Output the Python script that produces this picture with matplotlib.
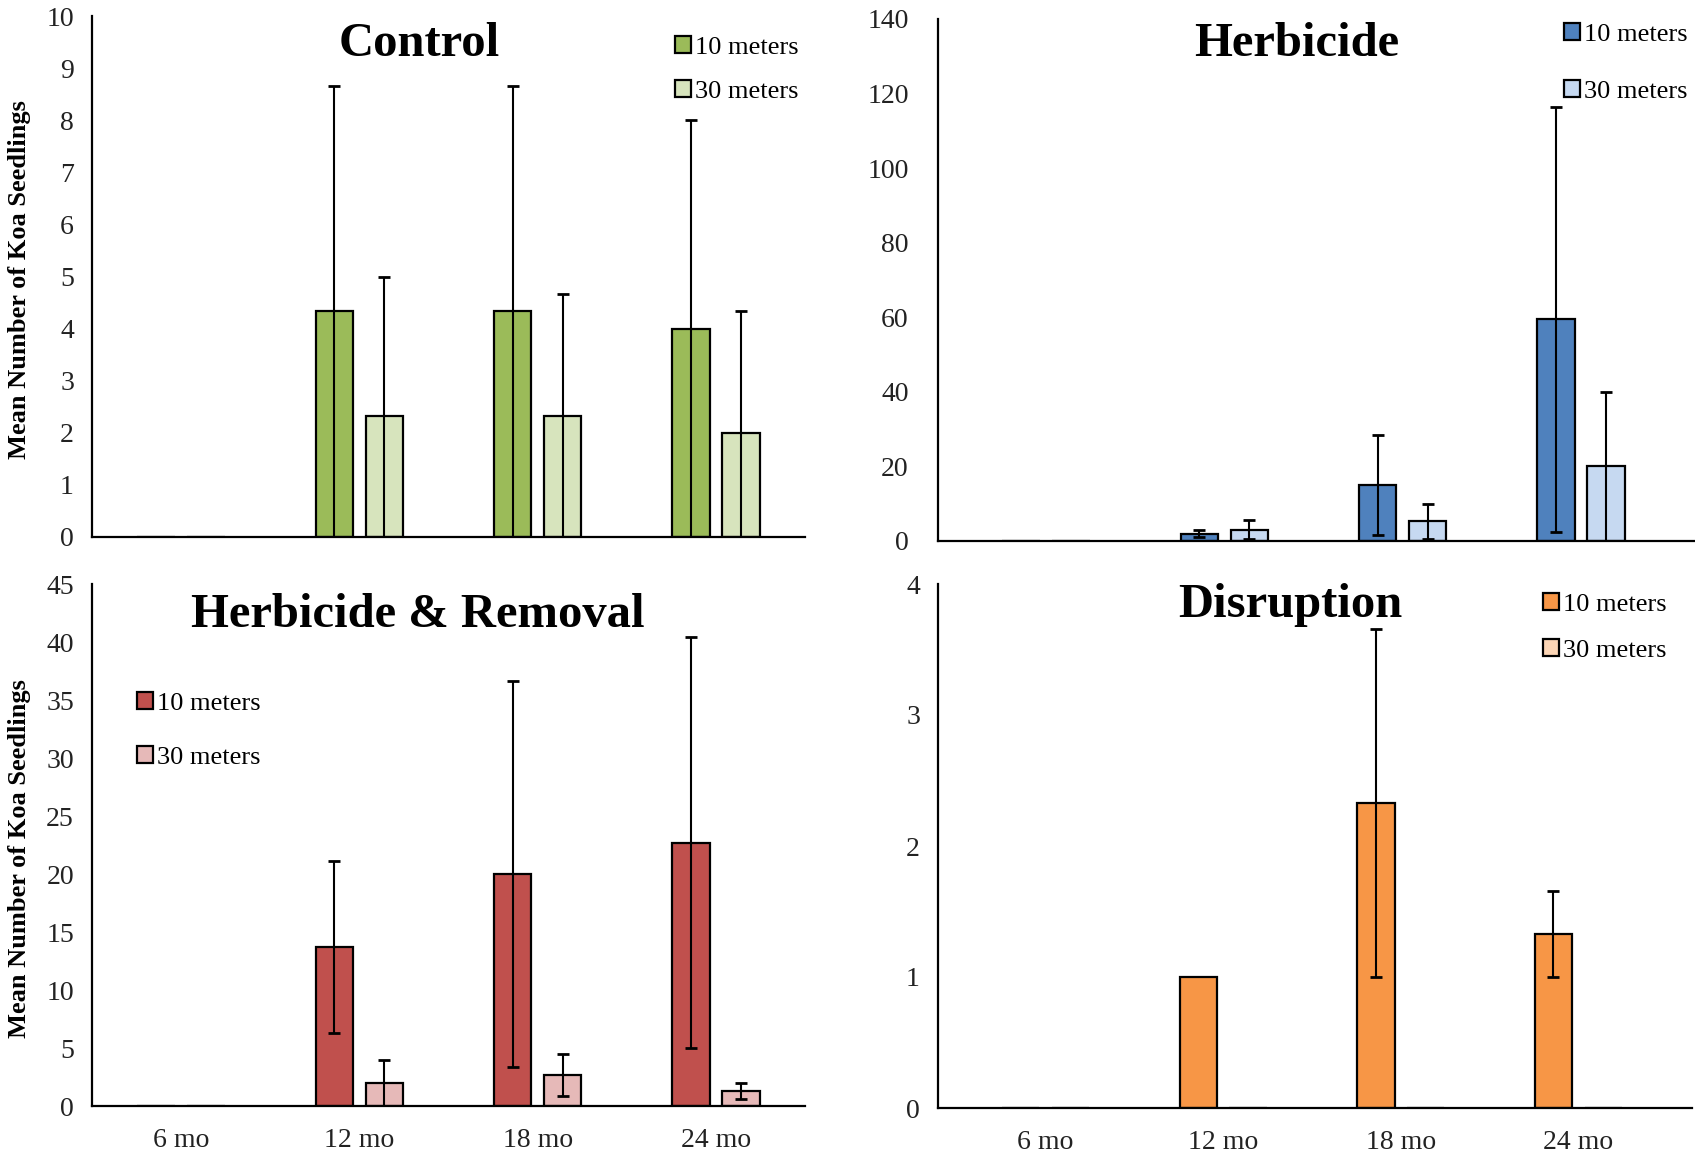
import matplotlib
matplotlib.use("Agg")
import matplotlib.pyplot as plt
import numpy as np

plt.rcParams['font.family'] = ['Liberation Serif', 'DejaVu Serif']

months = ['6 mo', '12 mo', '18 mo', '24 mo']
series = ['10 meters', '30 meters']

control_10 = [0, 4.33, 4.33, 4.0]
control_10_err = [0, 4.33, 4.33, 4.0]
control_30 = [0, 2.33, 2.33, 2.0]
control_30_err = [0, 2.67, 2.33, 2.33]

herb_10 = [0, 2.0, 15.0, 59.5]
herb_10_err = [0, 1.0, 13.5, 57.0]
herb_30 = [0, 3.0, 5.3, 20.0]
herb_30_err = [0, 2.5, 4.7, 20.0]

hr_10 = [0, 13.7, 20.0, 22.7]
hr_10_err = [0, 7.4, 16.6, 17.7]
hr_30 = [0, 2.0, 2.7, 1.3]
hr_30_err = [0, 2.0, 1.8, 0.67]

dis_10 = [0, 1.0, 2.33, 1.33]
dis_10_err = [0, 0, 1.33, 0.33]
dis_30 = [0, 0, 0, 0]
dis_30_err = [0, 0, 0, 0]

W, H = 1695, 1155
fig = plt.figure(figsize=(W / 100, H / 100), dpi=100)


def px_axes(x0, x1, y_bottom, y_top):
    return fig.add_axes([x0 / W, 1 - y_bottom / H, (x1 - x0) / W, (y_bottom - y_top) / H])


def panel(ax, v10, e10, v30, e30, colors, ymax, ystep, xlim, show_x, ypad):
    x = np.arange(len(months))
    w = 0.21
    off = 0.14
    ekw = dict(ecolor='black', elinewidth=1.5, capsize=4, capthick=2)
    e10m = [e if e > 0 else np.nan for e in e10]
    e30m = [e if e > 0 else np.nan for e in e30]
    ax.bar(x - off, v10, w, color=colors[0], edgecolor='black', linewidth=1.6,
           label=series[0], zorder=2)
    ax.bar(x + off, v30, w, color=colors[1], edgecolor='black', linewidth=1.6,
           label=series[1], zorder=2)
    ax.errorbar(x - off, v10, yerr=e10m, fmt='none', zorder=3, **ekw)
    ax.errorbar(x + off, v30, yerr=e30m, fmt='none', zorder=3, **ekw)
    ax.set_ylim(0, ymax)
    ax.set_xlim(*xlim)
    ax.set_yticks(np.arange(0, ymax + ystep / 2, ystep))
    ax.set_xticks(x)
    if show_x:
        ax.set_xticklabels(months)
    else:
        ax.set_xticklabels([])
    ax.tick_params(length=0, labelsize=20, colors='#222222')
    ax.tick_params(axis='y', pad=ypad)
    ax.tick_params(axis='x', pad=16)
    for s in ['top', 'right']:
        ax.spines[s].set_visible(False)
    for s in ['left', 'bottom']:
        ax.spines[s].set_linewidth(1.6)
        ax.spines[s].set_clip_on(False)
    ax.patch.set_alpha(0)


def legend(ax, xpx, ypx, spacing):
    ax.legend(loc='upper left', bbox_to_anchor=(xpx / W, 1 - ypx / H),
              bbox_transform=fig.transFigure, frameon=False, fontsize=19,
              handlelength=0.6, handleheight=0.6, handletextpad=0.15,
              labelspacing=spacing, borderpad=0, borderaxespad=0)


left_x = (-0.5, 3.5)
right_x = (-0.606, 3.64)

ax1 = px_axes(92, 805, 537, 16)
panel(ax1, control_10, control_10_err, control_30, control_30_err,
      ['#9BBB59', '#D7E4BD'], 10, 1, left_x, False, 13)
legend(ax1, 675, 36, 0.82)

ax2 = px_axes(938, 1695, 541, 19)
panel(ax2, herb_10, herb_10_err, herb_30, herb_30_err,
      ['#4F81BD', '#C6D9F1'], 140, 20, right_x, False, 21)
legend(ax2, 1564, 23, 1.3)

ax3 = px_axes(92, 805, 1106, 584)
panel(ax3, hr_10, hr_10_err, hr_30, hr_30_err,
      ['#C0504D', '#E6B9B8'], 45, 5, left_x, True, 13)
legend(ax3, 137, 692, 1.2)

ax4 = px_axes(938, 1692, 1108, 584)
panel(ax4, dis_10, dis_10_err, dis_30, dis_30_err,
      ['#F79646', '#FCD5B5'], 4, 1, right_x, True, 13)
legend(ax4, 1543, 593, 0.9)

title_kw = dict(ha='center', va='center', fontsize=35, fontweight='bold')
fig.text(419 / W, 1 - 44 / H, 'Control', **title_kw)
fig.text(1297 / W, 1 - 44 / H, 'Herbicide', **title_kw)
fig.text(418 / W, 1 - 615 / H, 'Herbicide & Removal', **title_kw)
fig.text(1290 / W, 1 - 605 / H, 'Disruption', **title_kw)

ylab_kw = dict(ha='center', va='center', rotation=90, fontsize=19, fontweight='bold')
fig.text(20 / W, 1 - 280 / H, 'Mean Number of Koa Seedlings', **ylab_kw)
fig.text(20 / W, 1 - 859 / H, 'Mean Number of Koa Seedlings', **ylab_kw)

fig.savefig('out.png', dpi=100, facecolor='white')
